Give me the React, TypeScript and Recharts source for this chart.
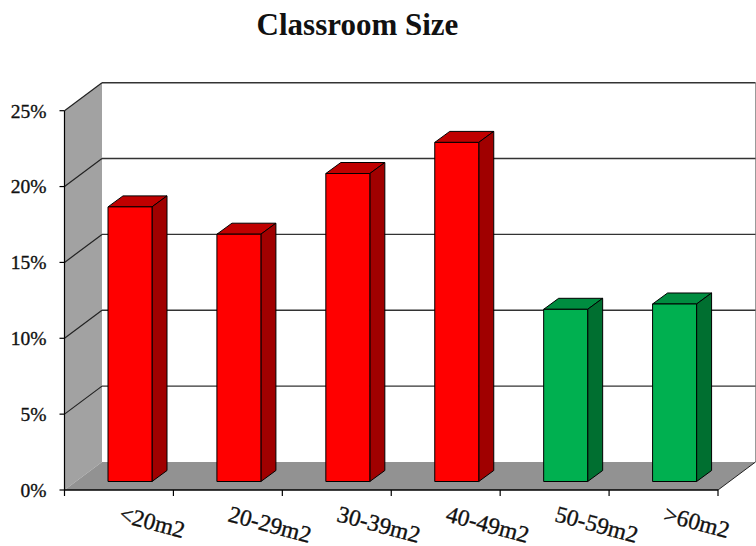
import React from "react";
import { BarChart, Bar, XAxis, YAxis, usePlotArea } from "recharts";

const categories = ["<20m2", "20-29m2", "30-39m2", "40-49m2", "50-59m2", ">60m2"];
const values = [18.1, 16.3, 20.3, 22.35, 11.35, 11.7];
const yTicks = [0, 5, 10, 15, 20, 25];
const faces = ["red", "red", "red", "red", "green", "green"];
const palette: any = {
  red: { front: "#FF0000", top: "#C00000", side: "#A00000" },
  green: { front: "#00B050", top: "#008D40", side: "#006F30" },
};
const data = categories.map((c, i) => ({ name: c, value: values[i] }));

const DEPTH_X = 37.5;
const DEPTH_Y = 28;
const FONT = "'Liberation Serif', serif";
const MAX = 25;

function Walls() {
  const p = usePlotArea();
  if (!p) return null;
  const left = p.x;
  const right = p.x + p.width;
  const bottom = p.y + p.height;
  const yOf = (v: number) => bottom - (v / MAX) * p.height;
  const bx0 = left + DEPTH_X;
  const bx1 = right + DEPTH_X;
  return (
    <g>
      <polygon
        points={`${left},${yOf(MAX)} ${bx0},${yOf(MAX) - DEPTH_Y} ${bx0},${bottom - DEPTH_Y} ${left},${bottom}`}
        fill="#a2a2a2"
      />
      <polygon
        points={`${left},${bottom} ${bx0},${bottom - DEPTH_Y} ${bx1},${bottom - DEPTH_Y} ${right},${bottom}`}
        fill="#929292"
      />
      <line x1={bx1} x2={bx1} y1={yOf(MAX) - DEPTH_Y} y2={bottom - DEPTH_Y} stroke="#9a9a9a" strokeWidth={1} />
      <line x1={bx1} x2={right} y1={bottom - DEPTH_Y} y2={bottom} stroke="#222" strokeWidth={1} />
      {yTicks.map((t) => (
        <g key={t}>
          {t > 0 && (
            <line x1={left} y1={yOf(t)} x2={bx0} y2={yOf(t) - DEPTH_Y} stroke="#222" strokeWidth={1.2} />
          )}
          {t > 0 && (
            <line x1={bx0} y1={yOf(t) - DEPTH_Y} x2={bx1} y2={yOf(t) - DEPTH_Y} stroke="#333" strokeWidth={1.4} />
          )}
        </g>
      ))}
      <line x1={left} x2={left} y1={bottom} y2={bottom + 6} stroke="#000" strokeWidth={1.2} />
    </g>
  );
}

function Bar3D(props: any) {
  const { x, y, width, height, index } = props;
  const c = palette[faces[index]];
  const dx = 11.5;
  const dy = -8.5;
  const dpx = 15;
  const dpy = -11;
  const x0 = x + dx;
  const x1 = x0 + width;
  const y0 = y + dy;
  const y1 = y0 + height;
  return (
    <g stroke="#000" strokeWidth={1} strokeLinejoin="round">
      <polygon points={`${x0},${y0} ${x0 + dpx},${y0 + dpy} ${x1 + dpx},${y0 + dpy} ${x1},${y0}`} fill={c.top} />
      <polygon points={`${x1},${y0} ${x1 + dpx},${y0 + dpy} ${x1 + dpx},${y1 + dpy} ${x1},${y1}`} fill={c.side} />
      <rect x={x0} y={y0} width={width} height={height} fill={c.front} />
    </g>
  );
}

function XTick(props: any) {
  const { x, y, payload } = props;
  const band = 653.5 / categories.length;
  const tx = x + band / 2;
  const base = y - 8;
  const sx = x - 1;
  const sy = base + 31;
  return (
    <g>
      <line x1={tx} x2={tx} y1={base} y2={base + 6} stroke="#000" strokeWidth={1.2} />
      <text
        x={sx}
        y={sy}
        transform={`rotate(15 ${sx} ${sy})`}
        textAnchor="start"
        fontFamily={FONT}
        fontSize={23.5}
        fill="#111"
        stroke="#111"
        strokeWidth={0.35}
      >
        {payload.value}
      </text>
    </g>
  );
}

export default function App() {
  return (
    <div style={{ position: "absolute", left: 0, top: 0, width: 756, height: 546, background: "#fff" }}>
      <div
        style={{
          position: "absolute",
          left: 0,
          width: 715,
          top: 8,
          textAlign: "center",
          fontFamily: FONT,
          fontWeight: "bold",
          fontSize: 31,
          lineHeight: "34px",
          color: "#111",
        }}
      >
        Classroom Size
      </div>
      <BarChart
        width={756}
        height={546}
        data={data}
        margin={{ left: 0, right: 38, top: 110.7, bottom: 0 }}
        barSize={44}
      >
        <Walls />
        <XAxis
          dataKey="name"
          height={56}
          interval={0}
          tickLine={false}
          axisLine={{ stroke: "#000", strokeWidth: 1.5 }}
          tick={<XTick />}
        />
        <YAxis
          width={64.5}
          domain={[0, MAX]}
          ticks={yTicks}
          tickFormatter={(v: number) => `${v}%`}
          axisLine={{ stroke: "#000", strokeWidth: 1.2 }}
          tickLine={{ stroke: "#000", strokeWidth: 1.2 }}
          tickSize={5}
          tickMargin={13}
          tick={{ fontFamily: FONT, fontSize: 19.5, fill: "#111", stroke: "#111", strokeWidth: 0.35 }}
        />
        <Bar dataKey="value" isAnimationActive={false} shape={<Bar3D />} />
      </BarChart>
    </div>
  );
}
